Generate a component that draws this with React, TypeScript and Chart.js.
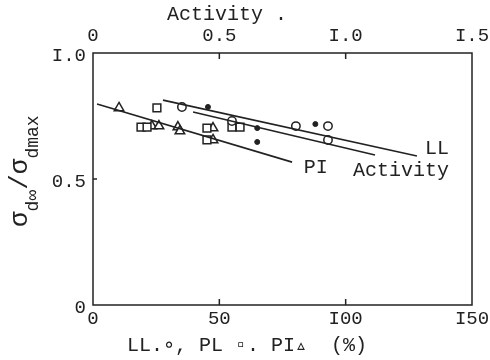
import React, { useEffect, useRef } from "react";
import { Chart, registerables } from "chart.js";
Chart.register(...registerables);

// ---- data ----
const xTickValues = [0, 50, 100, 150];
const xTickLabels = ["0", "50", "I00", "I50"];
const activityTickValues = [0, 0.5, 1.0, 1.5];
const activityTickLabels = ["0", "0.5", "I.0", "I.5"];
const yTickValues = [0, 0.5, 1.0];
const yTickLabels = ["0", "0.5", "I.0"];

// Liquid limit LL (%) vs ratio — open circles
const llX = [35.2, 55.0, 80.3, 93.0, 93.0];
const llY = [0.786, 0.73, 0.71, 0.71, 0.655];
// Plastic limit PL (%) — open squares
const plX = [25.3, 19.0, 21.4, 45.1, 45.1, 55.0, 58.2];
const plY = [0.782, 0.706, 0.706, 0.702, 0.655, 0.706, 0.706];
// Plasticity index PI (%) — open triangles
const piX = [10.3, 23.3, 26.1, 33.6, 34.4, 47.5, 47.5];
const piY = [0.782, 0.71, 0.71, 0.706, 0.69, 0.702, 0.655];
// Activity — filled dots (top axis)
const actX = [0.455, 0.65, 0.65, 0.88];
const actY = [0.786, 0.702, 0.647, 0.718];

// Fitted lines (two end points each)
const llLineX = [27.7, 128.2];
const llLineY = [0.813, 0.591];
const actLineX = [0.396, 1.116];
const actLineY = [0.766, 0.595];
const piLineX = [1.6, 78.8];
const piLineY = [0.798, 0.567];

const lineLabelText = ["LL", "PI", "Activity"];
const lineLabelX = [136.1, 88.2, 1.219];
const lineLabelY = [0.619, 0.544, 0.532];
const lineLabelAxis = ["x", "x", "x2"];

const topTitle = "Activity .";
const bottomTitle = "LL.\u2218, PL \u25ab. PI\u25b5  (%)";

const zip = (xs: number[], ys: number[]) => xs.map((x, i) => ({ x, y: ys[i] }));

const MONO = "'Liberation Mono', 'DejaVu Sans Mono', monospace";
const INK = "#222";

const decorPlugin = {
  id: "decor",
  afterDraw(chart: any) {
    const ctx = chart.ctx;
    const ca = chart.chartArea;
    ctx.save();
    ctx.strokeStyle = INK;
    ctx.lineWidth = 1.5;
    ctx.strokeRect(ca.left, ca.top, ca.right - ca.left, ca.bottom - ca.top);

    // inward tick marks
    const tl = 6;
    const xs = chart.scales.x;
    xs.ticks.forEach((t: any) => {
      const p = xs.getPixelForValue(t.value);
      if (p <= ca.left + 1 || p >= ca.right - 1) return;
      ctx.beginPath();
      ctx.moveTo(p, ca.bottom);
      ctx.lineTo(p, ca.bottom - tl);
      ctx.stroke();
    });
    const x2 = chart.scales.x2;
    x2.ticks.forEach((t: any) => {
      const p = x2.getPixelForValue(t.value);
      if (p <= ca.left + 1 || p >= ca.right - 1) return;
      ctx.beginPath();
      ctx.moveTo(p, ca.top);
      ctx.lineTo(p, ca.top + tl);
      ctx.stroke();
    });
    const ys = chart.scales.y;
    ys.ticks.forEach((t: any) => {
      const p = ys.getPixelForValue(t.value);
      if (p <= ca.top + 1 || p >= ca.bottom - 1) return;
      ctx.beginPath();
      ctx.moveTo(ca.left, p);
      ctx.lineTo(ca.left + 4, p);
      ctx.stroke();
    });

    // line labels
    ctx.fillStyle = INK;
    ctx.font = `20px ${MONO}`;
    ctx.textAlign = "center";
    ctx.textBaseline = "middle";
    lineLabelText.forEach((txt, i) => {
      const sx = chart.scales[lineLabelAxis[i]];
      ctx.fillText(txt, sx.getPixelForValue(lineLabelX[i]), ys.getPixelForValue(lineLabelY[i]));
    });

    // top title
    ctx.textAlign = "left";
    ctx.textBaseline = "alphabetic";
    ctx.font = `20px ${MONO}`;
    ctx.fillText(topTitle, 167, 20);

    // bottom title
    ctx.fillText(bottomTitle, 127, 351);

    // y title: sigma_d∞ / sigma_dmax (rotated)
    ctx.translate(27, 227);
    ctx.rotate(-Math.PI / 2);
    const big = `26px ${MONO}`;
    const small = `18px ${MONO}`;
    let cx = 0;
    const put = (s: string, f: string, dy: number) => {
      ctx.font = f;
      ctx.fillText(s, cx, dy);
      cx += ctx.measureText(s).width;
    };
    put("\u03c3", big, 0);
    put("d\u221e", small, 11);
    put("/", big, 0);
    put("\u03c3", big, 0);
    put("dmax", small, 11);
    ctx.restore();
  },
};

const labelFrom = (vals: number[], labs: string[]) => (v: any) => {
  const i = vals.findIndex((a) => Math.abs(a - Number(v)) < 1e-6);
  return i >= 0 ? labs[i] : "";
};

export default function App() {
  const ref = useRef<HTMLCanvasElement | null>(null);
  useEffect(() => {
    document.body.style.margin = "0";
    const tickFont = { family: MONO, size: 19 };
    const chart = new Chart(ref.current as HTMLCanvasElement, {
      type: "scatter",
      data: {
        datasets: [
          {
            label: "LL line",
            data: zip(llLineX, llLineY),
            showLine: true,
            pointRadius: 0,
            borderColor: INK,
            borderWidth: 1.6,
            xAxisID: "x",
          },
          {
            label: "Activity line",
            data: zip(actLineX, actLineY),
            showLine: true,
            pointRadius: 0,
            borderColor: INK,
            borderWidth: 1.6,
            xAxisID: "x2",
          },
          {
            label: "PI line",
            data: zip(piLineX, piLineY),
            showLine: true,
            pointRadius: 0,
            borderColor: INK,
            borderWidth: 1.6,
            xAxisID: "x",
          },
          {
            label: "LL",
            data: zip(llX, llY),
            pointStyle: "circle",
            pointRadius: 4.2,
            backgroundColor: "#fff",
            borderColor: INK,
            borderWidth: 1.5,
            xAxisID: "x",
          },
          {
            label: "PL",
            data: zip(plX, plY),
            pointStyle: "rect",
            pointRadius: 5.5,
            backgroundColor: "#fff",
            borderColor: INK,
            borderWidth: 1.5,
            xAxisID: "x",
          },
          {
            label: "PI",
            data: zip(piX, piY),
            pointStyle: "triangle",
            pointRadius: 5.5,
            backgroundColor: "#fff",
            borderColor: INK,
            borderWidth: 1.5,
            xAxisID: "x",
          },
          {
            label: "Activity",
            data: zip(actX, actY),
            pointStyle: "circle",
            pointRadius: 2.5,
            backgroundColor: INK,
            borderColor: INK,
            borderWidth: 1,
            xAxisID: "x2",
          },
        ],
      },
      options: {
        animation: false,
        responsive: false,
        layout: { padding: { left: 0, right: 18, top: 0, bottom: 0 } },
        plugins: { legend: { display: false }, tooltip: { enabled: false } },
        scales: {
          x: {
            type: "linear",
            position: "bottom",
            min: 0,
            max: 150,
            afterBuildTicks: (s: any) => {
              s.ticks = xTickValues.map((v) => ({ value: v }));
            },
            afterFit: (s: any) => {
              s.height = 55;
              s.paddingLeft = 0;
              s.paddingRight = 0;
            },
            ticks: { callback: labelFrom(xTickValues, xTickLabels), font: tickFont, color: INK, padding: 3, maxRotation: 0, autoSkip: false },
            grid: { display: false, drawTicks: false },
            border: { display: false },
          },
          x2: {
            type: "linear",
            position: "top",
            min: 0,
            max: 1.5,
            afterBuildTicks: (s: any) => {
              s.ticks = activityTickValues.map((v) => ({ value: v }));
            },
            afterFit: (s: any) => {
              s.height = 53;
              s.paddingLeft = 0;
              s.paddingRight = 0;
            },
            ticks: { callback: labelFrom(activityTickValues, activityTickLabels), font: tickFont, color: INK, padding: 6, maxRotation: 0, autoSkip: false },
            grid: { display: false, drawTicks: false },
            border: { display: false },
          },
          y: {
            type: "linear",
            position: "left",
            min: 0,
            max: 1,
            afterBuildTicks: (s: any) => {
              s.ticks = yTickValues.map((v) => ({ value: v }));
            },
            afterFit: (s: any) => {
              s.width = 93;
              s.paddingTop = 0;
              s.paddingBottom = 0;
            },
            ticks: { callback: labelFrom(yTickValues, yTickLabels), font: tickFont, color: INK, padding: 7, labelOffset: 3, autoSkip: false },
            grid: { display: false, drawTicks: false },
            border: { display: false },
          },
        },
      } as any,
      plugins: [decorPlugin],
    });
    return () => chart.destroy();
  }, []);
  return (
    <div style={{ position: "absolute", left: 0, top: 0, width: 490, height: 360, background: "#fff" }}>
      <canvas ref={ref} width={490} height={360} style={{ width: 490, height: 360 }} />
    </div>
  );
}
